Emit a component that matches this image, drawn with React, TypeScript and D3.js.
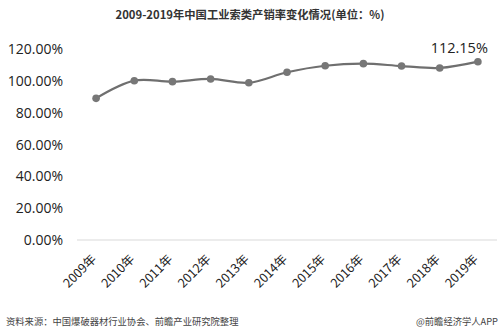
import React from "react";
import * as d3 from "d3";

const years = ["2009年","2010年","2011年","2012年","2013年","2014年","2015年","2016年","2017年","2018年","2019年"];
const rates = [89.1, 100.2, 99.6, 101.3, 98.9, 105.5, 109.6, 110.9, 109.4, 108.2, 112.15];
const yTicks = [0, 20, 40, 60, 80, 100, 120];
const title = "2009-2019年中国工业索类产销率变化情况(单位：%)";
const source = "资料来源：中国爆破器材行业协会、前瞻产业研究院整理";
const credit = "@前瞻经济学人APP";

export default function App() {
  const W = 500, H = 335;
  const x = d3.scaleBand<string>().domain(years).range([77, 497]);
  const y = d3.scaleLinear().domain([0, 120]).range([240, 49.2]);
  const cx = (d: string) => (x(d) as number) + x.bandwidth() / 2;
  const line = d3
    .line<number>()
    .x((_, i) => cx(years[i]))
    .y((v) => y(v))
    .curve(d3.curveCatmullRom.alpha(0.5));
  const last = rates.length - 1;
  const num = "'Open Sans', 'Noto Sans', sans-serif";
  const cjk = "'Noto Sans CJK SC', sans-serif";
  return (
    <svg width={W} height={H} style={{ position: "absolute", left: 0, top: 0, background: "#fff" }}>
      <rect width={W} height={H} fill="#fff" />
      <text x={250} y={19} textAnchor="middle" fontFamily={cjk} fontWeight="bold" fontSize={11.3} fill="#333">
        {title}
      </text>
      {yTicks.map((t) => (
        <text key={t} x={63} y={y(t)} dy="0.35em" textAnchor="end" fontFamily={num} fontSize={14} fill="#222">
          {t.toFixed(2)}%
        </text>
      ))}
      <line x1={77} x2={497} y1={y(0)} y2={y(0)} stroke="#d9d9d9" strokeWidth={1} />
      {years.map((yr) => (
        <text
          key={yr}
          transform={`translate(${cx(yr) + 1},${260}) rotate(-45)`}
          textAnchor="end"
          fontFamily={cjk}
          fontSize={12.5}
          fill="#222"
        >
          {yr}
        </text>
      ))}
      <path d={line(rates) || ""} fill="none" stroke="#6f6f6f" strokeWidth={2.2} />
      {rates.map((v, i) => (
        <circle key={i} cx={cx(years[i])} cy={y(v)} r={3.8} fill="#777" />
      ))}
      <text x={cx(years[last]) + 10} y={y(rates[last]) - 9} textAnchor="end" fontFamily={num} fontSize={14.5} fill="#222">
        {rates[last].toFixed(2)}%
      </text>
      <text x={6} y={325} fontFamily={cjk} fontSize={9.3} fill="#444">
        {source}
      </text>
      <text x={498} y={325} textAnchor="end" fontFamily={cjk} fontSize={9.3} fill="#444">
        {credit}
      </text>
    </svg>
  );
}
